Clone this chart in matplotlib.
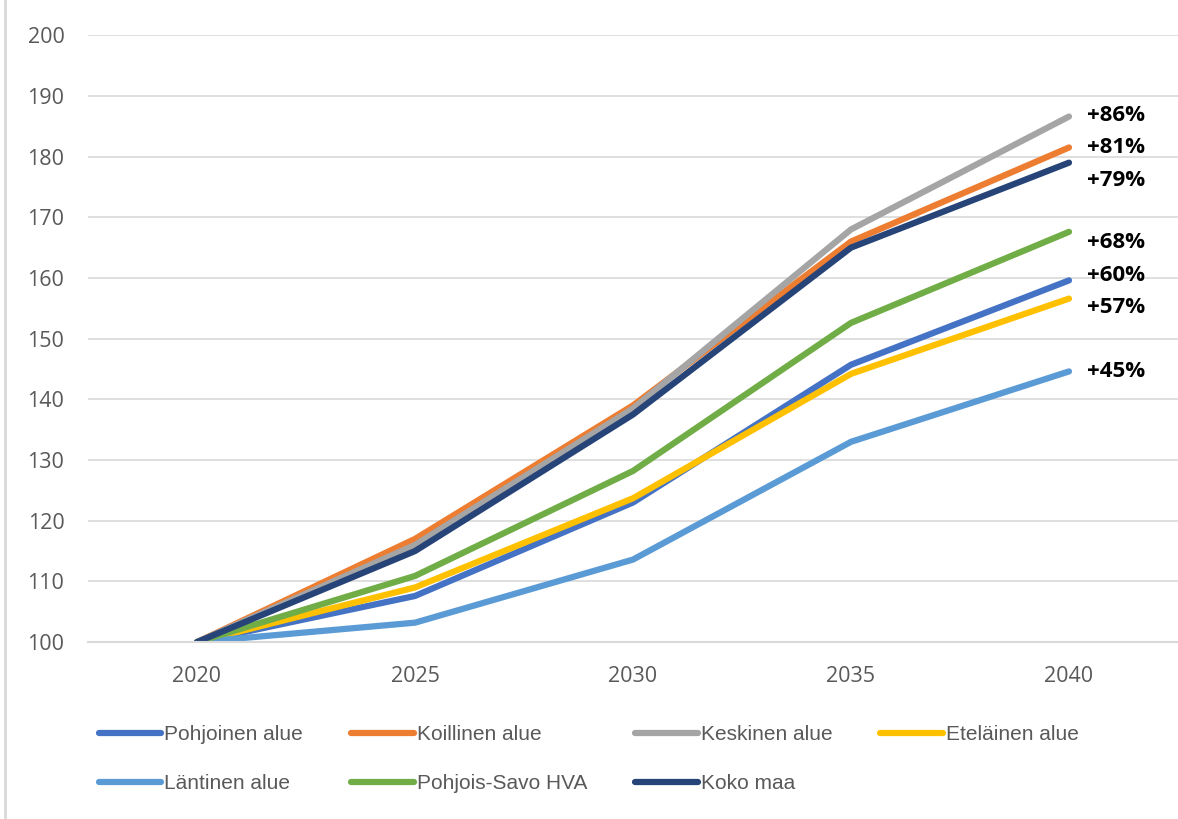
import matplotlib
matplotlib.use("Agg")
import matplotlib.pyplot as plt
from matplotlib.lines import Line2D

years = ["2020", "2025", "2030", "2035", "2040"]

pohjoinen = [100, 107.6, 123.0, 145.7, 159.6]
koillinen = [100, 117.0, 139.0, 166.0, 181.5]
keskinen = [100, 116.0, 138.5, 168.0, 186.6]
etelainen = [100, 109.0, 123.7, 144.2, 156.6]
lantinen = [100, 103.2, 113.6, 133.0, 144.6]
savo = [100, 110.9, 128.2, 152.6, 167.6]
koko_maa = [100, 115.0, 137.5, 165.0, 179.0]

names = ["Pohjoinen alue", "Koillinen alue", "Keskinen alue", "Eteläinen alue",
         "Läntinen alue", "Pohjois-Savo HVA", "Koko maa"]
series = [pohjoinen, koillinen, keskinen, etelainen, lantinen, savo, koko_maa]
end_labels = ["+60%", "+81%", "+86%", "+57%", "+45%", "+68%", "+79%"]

colors = ["#4472C4", "#ED7D31", "#A5A5A5", "#FFC000", "#5B9BD5", "#70AD47", "#264478"]
# vertical nudge of the end labels, in pixels (positive = down)
label_dy = [-5, 0, -1, 9, 0, 11, 18]

fig = plt.figure(figsize=(11.78, 8.19), dpi=100)
ax = fig.add_axes([0.0747, 0.216, 0.9253, 0.741])

x = range(len(years))
for vals, name, c in zip(series, names, colors):
    ax.plot(x, vals, color=c, lw=4.5, solid_capstyle="round",
            solid_joinstyle="round", label=name)

for vals, lab, dy in zip(series, end_labels, label_dy):
    ax.annotate(lab, xy=(len(years) - 1, vals[-1]), xytext=(13, -dy * 0.72),
                textcoords="offset points", ha="left", va="center",
                fontsize=16, fontweight="bold", family="Open Sans", color="black")

ax.set_xlim(-0.5, len(years) - 0.5)
ax.set_ylim(100, 200)
ax.set_yticks(range(100, 201, 10))
ax.set_xticks(list(x))
ax.set_xticklabels(years)
ax.grid(axis="y", color="#D9D9D9", lw=1.2)
ax.set_axisbelow(True)
for s in ["top", "right", "left"]:
    ax.spines[s].set_visible(False)
ax.spines["bottom"].set_color("#D9D9D9")
ax.spines["bottom"].set_linewidth(1.5)
ax.tick_params(length=0, labelsize=15.5, labelcolor="#595959")
ax.tick_params(axis="y", pad=17)
ax.tick_params(axis="x", pad=17)
for t in ax.get_xticklabels() + ax.get_yticklabels():
    t.set_family("Open Sans")

# legend filled row by row like the original (matplotlib fills by column)
order = [0, 4, 1, 5, 2, 6, 3]
handles = [Line2D([], [], color=colors[i], lw=4.5, solid_capstyle="round") for i in order]
leg = fig.legend(handles, [names[i] for i in order], ncol=4, loc="center left",
                 bbox_to_anchor=(0.068, 0.073), frameon=False,
                 prop={"family": "Liberation Sans", "size": 15},
                 handlelength=3.0, handletextpad=0.15, columnspacing=2.3,
                 labelspacing=1.45, labelcolor="#595959")

# thin gray frame line on the left edge of the picture
fig.add_artist(Line2D([0.0045, 0.0045], [0, 1], transform=fig.transFigure,
                      color="#D9D9D9", lw=2))

fig.savefig("out.png", dpi=100)
